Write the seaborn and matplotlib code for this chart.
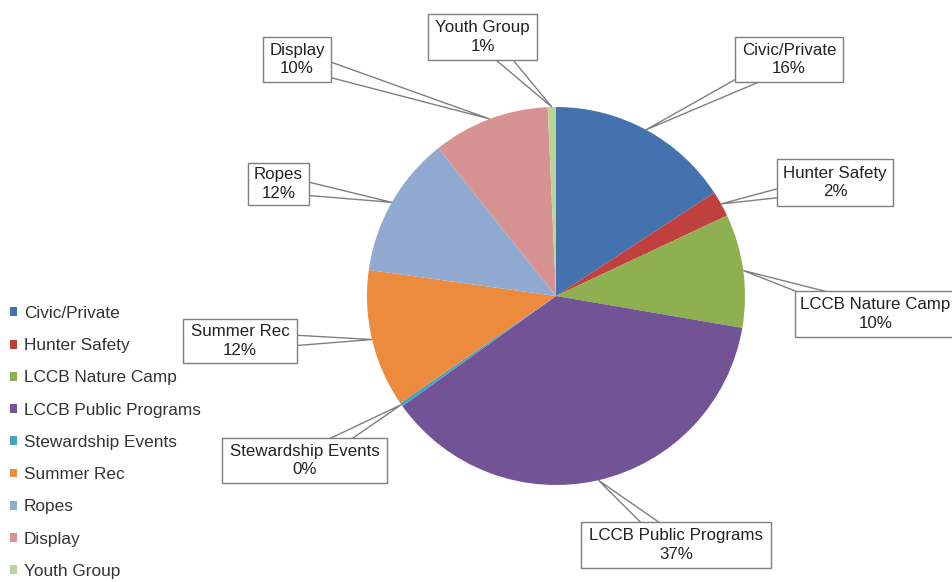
import numpy as np
import matplotlib
matplotlib.use("Agg")
import matplotlib.pyplot as plt
from matplotlib.patches import Rectangle, Polygon
import seaborn as sns


categories = ["Civic/Private", "Hunter Safety", "LCCB Nature Camp", "LCCB Public Programs",
              "Stewardship Events", "Summer Rec", "Ropes", "Display", "Youth Group"]
shares = [15.8, 2.2, 9.7, 37.4, 0.3, 11.8, 12.1, 10.0, 0.7]
colors = ["#4372AE", "#C0403D", "#8FB050", "#725496", "#44A3BE",
          "#EC8A3E", "#91AAD2", "#D69391", "#BBD396"]

# label boxes in pixel coords (x0, y0, x1, y1)
label_boxes = {
    "Civic/Private": (735, 37, 843, 82),
    "Hunter Safety": (777, 159, 893, 206),
    "LCCB Nature Camp": (795, 291, 962, 337),
    "LCCB Public Programs": (581, 522, 771, 568),
    "Stewardship Events": (222, 438, 387, 483),
    "Summer Rec": (183, 319, 297, 363),
    "Ropes": (248, 163, 309, 205),
    "Display": (263, 37, 331, 82),
    "Youth Group": (428, 14, 537, 60),
}

sns.set_theme(style="white")
plt.rcParams["font.family"] = ["Liberation Sans", "DejaVu Sans"]

fig = plt.figure(figsize=(9.52, 5.82), dpi=100)
ax = fig.add_axes([0, 0, 1, 1])

cx, cy, r = 556, 296, 189
palette = sns.color_palette(colors)
wedges, _ = ax.pie(shares, colors=palette, startangle=-90, counterclock=True,
                   center=(cx, cy), radius=r, wedgeprops=dict(linewidth=0))

ax.set_xlim(0, 952)
ax.set_ylim(582, 0)
ax.set_aspect("equal")
ax.axis("off")

for w, name, s in zip(wedges, categories, shares):
    mid = np.deg2rad((w.theta1 + w.theta2) / 2)
    tip = np.array([cx + r * np.cos(mid), cy + r * np.sin(mid)])
    x0, y0, x1, y1 = label_boxes[name]
    c = np.array([(x0 + x1) / 2, (y0 + y1) / 2])
    d = c - tip
    n = np.array([-d[1], d[0]]) / np.hypot(*d)
    ax.add_patch(Polygon([tip, c + n * 9, c - n * 9], closed=True, facecolor="white",
                         edgecolor="#7f7f7f", lw=1, zorder=3))
    ax.add_patch(Rectangle((x0, y0), x1 - x0, y1 - y0, facecolor="white",
                           edgecolor="#7f7f7f", lw=1, zorder=4))
    ax.text(c[0] if x1 < 952 else (x0 + 952) / 2 + 2, c[1], f"{name}\n{round(s)}%",
            ha="center", va="center", fontsize=12.2, color="#222222",
            linespacing=1.3, zorder=5)

fig.legend(wedges, categories, loc="upper left", bbox_to_anchor=(10 / 952, 1 - 306 / 582),
           frameon=False, fontsize=12.4, handlelength=0.42, handleheight=0.42,
           handletextpad=0.4, labelspacing=1.0, borderpad=0, borderaxespad=0,
           labelcolor="#333333")

fig.savefig("out.png", dpi=100)
